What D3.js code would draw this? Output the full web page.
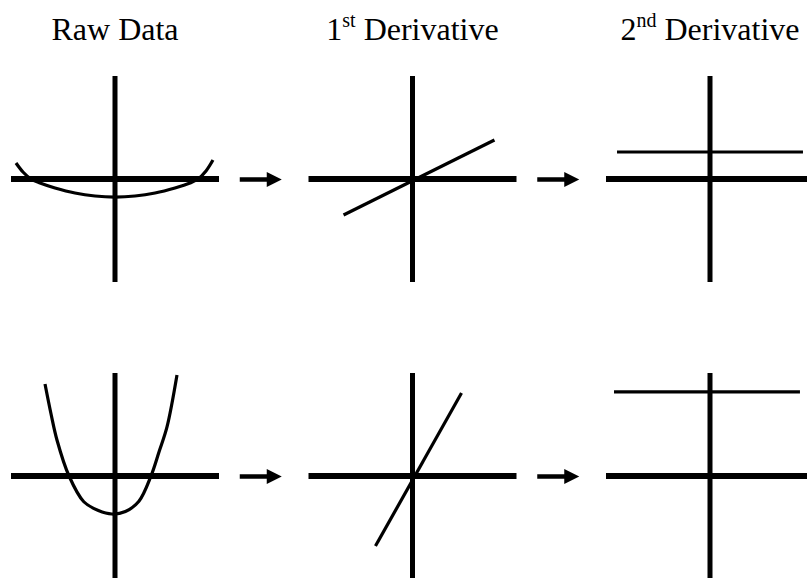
<!DOCTYPE html>
<html>
<head>
<meta charset="utf-8">
<script src="https://cdn.jsdelivr.net/npm/d3@7"></script>
<style>
  body { margin: 0; background: #fff; }
  .title { font-family: "Times New Roman", Times, "Liberation Serif", "DejaVu Serif", "Noto Serif", serif; }
</style>
</head>
<body>
<div id="chart"></div>
<script>
/* Raw data and its derivatives, two rows */

// column titles (number + superscript + text)
const titleNum = ["", "1", "2"];
const titleSup = ["", "st", "nd"];
const titleText = ["Raw Data", " Derivative", " Derivative"];

// curves in each panel's own units
const rawGentle = [[-0.952, 0.155], [-0.885, 0.068], [-0.808, 0], [-0.721, -0.039], [-0.577, -0.087], [-0.385, -0.136],
                   [-0.192, -0.165], [0, -0.175], [0.192, -0.165], [0.385, -0.136], [0.577, -0.087], [0.721, -0.039],
                   [0.798, 0], [0.875, 0.078], [0.942, 0.184]];
const rawSteep = [[-0.673, 0.893], [-0.615, 0.602], [-0.558, 0.35], [-0.442, 0], [-0.30, -0.25], [-0.16, -0.335],
                  [-0.03, -0.369], [0.10, -0.345], [0.23, -0.245], [0.346, 0], [0.423, 0.233], [0.5, 0.476], [0.596, 0.98]];
const firstGentle = [[-0.663, -0.35], [0.788, 0.379]];
const firstSteep = [[-0.356, -0.68], [0.471, 0.806]];
const secondGentle = [[-0.894, 0.262], [0.894, 0.262]];
const secondSteep = [[-0.923, 0.816], [0.865, 0.816]];

const panels = [
    [rawGentle, firstGentle, secondGentle],
    [rawSteep, firstSteep, secondSteep]
];

const width = 807,
      height = 578;

let svg = d3.select("#chart")
            .append("svg")
            .attr("width", width)
            .attr("height", height);

/* where each panel sits */
let col = d3.scalePoint()
            .domain([0, 1, 2])
            .range([115, 710]);

let row = d3.scalePoint()
            .domain([0, 1])
            .range([179, 476]);

/* scales inside one panel */
let x = d3.scaleLinear()
          .domain([-1, 1])
          .range([-104, 104]);

let y = d3.scaleLinear()
          .domain([-1, 1])
          .range([103, -103]);

const line = d3.line()
               .x(d => x(d[0]))
               .y(d => y(d[1]))
               .curve(d3.curveCatmullRom);

/* titles */
let title = svg.selectAll(".title")
    .data(titleText)
    .join("text")
    .attr("class", "title")
    .attr("x", (d, i) => col(i))
    .attr("y", 40)
    .attr("text-anchor", "middle")
    .attr("font-size", 32)
    .attr("fill", "#000");

title.append("tspan").text((d, i) => titleNum[i]);
title.append("tspan")
     .text((d, i) => titleSup[i])
     .attr("dy", -13)
     .attr("font-size", 20);
title.append("tspan")
     .text(d => d)
     .attr("dy", (d, i) => titleSup[i] ? 13 : 0);

/* panels */
panels.forEach((rowData, r) => {
    rowData.forEach((curve, c) => {
        let g = svg.append("g")
                   .attr("transform", `translate(${col(c)},${row(r)})`);

        // horizontal axis
        g.append("line")
         .attr("x1", x(-1)).attr("x2", x(1))
         .attr("y1", y(0)).attr("y2", y(0))
         .attr("stroke", "#000")
         .attr("stroke-width", 6);

        // vertical axis
        g.append("line")
         .attr("x1", x(0)).attr("x2", x(0))
         .attr("y1", y(-1)).attr("y2", y(1))
         .attr("stroke", "#000")
         .attr("stroke-width", 5);

        g.append("path")
         .datum(curve)
         .attr("d", line)
         .attr("fill", "none")
         .attr("stroke", "#000")
         .attr("stroke-width", 3.2);
    });

    /* arrows between columns */
    for (let c = 0; c < 2; c++) {
        let mid = (col(c) + col(c + 1)) / 2,
            x0 = mid - 24,
            x1 = mid + 18,
            yy = row(r) + 0.5;

        svg.append("line")
           .attr("x1", x0).attr("x2", x1 - 12)
           .attr("y1", yy).attr("y2", yy)
           .attr("stroke", "#000")
           .attr("stroke-width", 4.5);

        svg.append("path")
           .attr("d", `M${x1 - 15},${yy - 7.5}L${x1},${yy}L${x1 - 15},${yy + 7.5}Z`)
           .attr("fill", "#000");
    }
});
</script>
</body>
</html>
